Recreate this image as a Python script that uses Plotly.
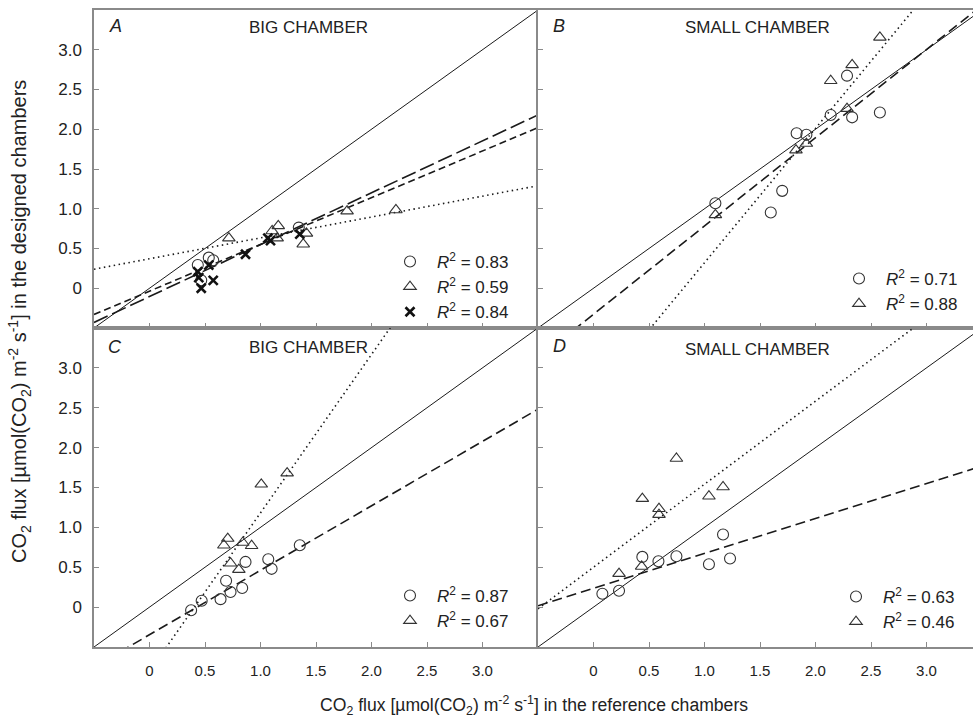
import plotly.graph_objects as go

# ---------------- data ----------------
# Panel A - big chamber
A_circ_x = [0.435, 0.534, 0.574, 0.466, 1.345]
A_circ_y = [0.293, 0.385, 0.353, 0.10, 0.763]
A_tri_x = [0.715, 1.105, 1.16, 1.15, 1.414, 1.385, 1.78, 2.22]
A_tri_y = [0.63, 0.72, 0.785, 0.63, 0.69, 0.554, 0.97, 0.985]
A_x_x = [0.435, 0.444, 0.466, 0.534, 0.574, 0.865, 1.066, 1.09, 1.354]
A_x_y = [0.21, 0.134, 0.0, 0.29, 0.10, 0.428, 0.63, 0.60, 0.68]

# Panel B - small chamber
B_circ_x = [1.098, 1.597, 1.70, 1.83, 1.918, 2.137, 2.284, 2.33, 2.58]
B_circ_y = [1.07, 0.952, 1.225, 1.95, 1.93, 2.18, 2.674, 2.15, 2.21]
B_tri_x = [1.098, 1.824, 1.918, 2.137, 2.284, 2.33, 2.58]
B_tri_y = [0.923, 1.738, 1.82, 2.61, 2.26, 2.81, 3.156]

# Panel C - big chamber
C_circ_x = [0.375, 0.47, 0.64, 0.69, 0.73, 0.835, 0.865, 1.07, 1.10, 1.354]
C_circ_y = [-0.04, 0.08, 0.10, 0.33, 0.19, 0.24, 0.567, 0.60, 0.48, 0.776]
C_tri_x = [0.67, 0.705, 0.73, 0.805, 0.84, 0.92, 1.007, 1.24]
C_tri_y = [0.776, 0.86, 0.55, 0.47, 0.81, 0.77, 1.54, 1.68]

# Panel D - small chamber
D_circ_x = [0.08, 0.23, 0.44, 0.585, 0.747, 1.04, 1.167, 1.23]
D_circ_y = [0.167, 0.205, 0.63, 0.575, 0.637, 0.537, 0.91, 0.61]
D_tri_x = [0.23, 0.434, 0.44, 0.59, 0.59, 0.747, 1.04, 1.167]
D_tri_y = [0.42, 0.51, 1.36, 1.234, 1.16, 1.864, 1.39, 1.506]

# regression lines (slope, intercept)
A_fit_circ = (0.5875, -0.036)
A_fit_tri = (0.2625, 0.371)
A_fit_x = (0.6525, -0.104)
B_fit_circ = (1.11, -0.327)
B_fit_tri = (1.69, -1.369)
C_fit_circ = (0.808, -0.346)
C_fit_tri = (1.986, -0.804)
D_fit_circ = (0.438, 0.236)
D_fit_tri = (1.041, 0.50)

# R^2 values
A_r2 = ["0.83", "0.59", "0.84"]
B_r2 = ["0.71", "0.88"]
C_r2 = ["0.87", "0.67"]
D_r2 = ["0.63", "0.46"]

tick_vals = [0, 0.5, 1.0, 1.5, 2.0, 2.5, 3.0]
tick_text = ["0", "0.5", "1.0", "1.5", "2.0", "2.5", "3.0"]

panel_letters = ["A", "B", "C", "D"]
panel_titles = ["BIG CHAMBER", "SMALL CHAMBER", "BIG CHAMBER", "SMALL CHAMBER"]
x_title = "CO<sub>2</sub> flux [µmol(CO<sub>2</sub>) m<sup>-2</sup> s<sup>-1</sup>] in the reference chambers"
y_title = "CO<sub>2</sub> flux [µmol(CO<sub>2</sub>) m<sup>-2</sup> s<sup>-1</sup>] in the designed chambers"

# ---------------- layout geometry ----------------
W, H = 973, 718
L, R, T, B = 94, 0, 10, 71
PW, PH = W - L - R, H - T - B
split_x = 538
split_y = 328


def pxx(x):
    return (x - L) / PW


def pxy(y):
    return (H - B - y) / PH


FONT = "Liberation Sans, Arial, sans-serif"
AXC = "#8a8a8a"
MK = "#333333"
LN = "#1a1a1a"

fig = go.Figure()

axes = {
    "A": ("x", "y"),
    "B": ("x2", "y2"),
    "C": ("x3", "y3"),
    "D": ("x4", "y4"),
}
legends = {"A": "legend", "B": "legend2", "C": "legend3", "D": "legend4"}

line_x = [-0.5, 3.5]


def add_line(panel, fit, dash, width=1.6):
    xa, ya = axes[panel]
    s, b = fit
    fig.add_trace(go.Scatter(
        x=line_x, y=[b + s * v for v in line_x], mode="lines",
        line=dict(color=LN, width=width, dash=dash),
        xaxis=xa, yaxis=ya, showlegend=False, hoverinfo="skip"))


def add_pts(panel, xs, ys, kind, r2):
    xa, ya = axes[panel]
    if kind == "circ":
        marker = dict(symbol="circle-open", size=11, color=MK, line=dict(width=1.1, color=MK))
    elif kind == "tri":
        marker = dict(symbol="triangle-up-open", size=11, color=MK, line=dict(width=1.1, color=MK))
    else:
        marker = dict(symbol="x-thin", size=9, color="#111111", line=dict(width=2.6, color="#111111"))
    fig.add_trace(go.Scatter(
        x=xs, y=ys, mode="markers", marker=marker,
        name="<i>R</i><sup>2</sup> = " + r2,
        xaxis=xa, yaxis=ya, legend=legends[panel]))


# identity lines
for p in "ABCD":
    add_line(p, (1.0, 0.0), "solid", 1.0)

add_line("A", A_fit_circ, "7px,4px")
add_line("A", A_fit_x, "15px,5px")
add_line("A", A_fit_tri, "1.5px,3.5px")
add_line("B", B_fit_circ, "10px,5px")
add_line("B", B_fit_tri, "1.5px,3.5px")
add_line("C", C_fit_circ, "10px,5px")
add_line("C", C_fit_tri, "1.5px,3.5px")
add_line("D", D_fit_circ, "10px,5px")
add_line("D", D_fit_tri, "1.5px,3.5px")

add_pts("A", A_circ_x, A_circ_y, "circ", A_r2[0])
add_pts("A", A_tri_x, A_tri_y, "tri", A_r2[1])
add_pts("A", A_x_x, A_x_y, "x", A_r2[2])
add_pts("B", B_circ_x, B_circ_y, "circ", B_r2[0])
add_pts("B", B_tri_x, B_tri_y, "tri", B_r2[1])
add_pts("C", C_circ_x, C_circ_y, "circ", C_r2[0])
add_pts("C", C_tri_x, C_tri_y, "tri", C_r2[1])
add_pts("D", D_circ_x, D_circ_y, "circ", D_r2[0])
add_pts("D", D_tri_x, D_tri_y, "tri", D_r2[1])

xd_left = [0, pxx(split_x)]
xd_right = [pxx(split_x), 1]
yd_top = [pxy(split_y), 1]
yd_bot = [0, pxy(split_y)]
x_range_left = [-0.5, -0.5 + (split_x - L) / 111.0]
x_range_right = [-0.5, -0.5 + (W - R - split_x) / 111.0]
y_range = [-0.5, 3.5]

common_ax = dict(
    showgrid=False, zeroline=False, showline=True, linecolor=AXC, linewidth=1.5,
    ticks="inside", ticklen=5, tickwidth=1, tickcolor=AXC,
    tickvals=tick_vals, ticktext=tick_text,
)


def xaxis(domain, rng, anchor, labels):
    d = dict(common_ax)
    d.update(domain=domain, range=rng, anchor=anchor, mirror=True,
             showticklabels=labels, ticklabelstandoff=9,
             tickfont=dict(family=FONT, size=15, color="#222222"))
    return d


def yaxis(domain, anchor, labels):
    d = dict(common_ax)
    d.update(domain=domain, range=y_range, anchor=anchor,
             showticklabels=labels, ticklabelstandoff=7,
             tickfont=dict(family=FONT, size=17, color="#222222"))
    return d


leg_common = dict(xanchor="left", yanchor="top", bgcolor="rgba(0,0,0,0)",
                  font=dict(family=FONT, size=17, color="#222222"),
                  itemwidth=44, tracegroupgap=0, itemsizing="trace",
                  borderwidth=0, traceorder="normal")

fig.update_layout(
    width=W, height=H,
    margin=dict(l=L, r=R, t=T, b=B, pad=0),
    paper_bgcolor="white", plot_bgcolor="white",
    font=dict(family=FONT, color="#222222"),
    showlegend=True,
    xaxis=xaxis(xd_left, x_range_left, "y", False),
    yaxis=yaxis(yd_top, "x", True),
    xaxis2=xaxis(xd_right, x_range_right, "y2", False),
    yaxis2=yaxis(yd_top, "x2", False),
    xaxis3=xaxis(xd_left, x_range_left, "y3", True),
    yaxis3=yaxis(yd_bot, "x3", True),
    xaxis4=xaxis(xd_right, x_range_right, "y4", True),
    yaxis4=yaxis(yd_bot, "x4", False),
    legend=dict(leg_common, x=pxx(383), y=pxy(244)),
    legend2=dict(leg_common, x=pxx(832), y=pxy(261)),
    legend3=dict(leg_common, x=pxx(383), y=pxy(578)),
    legend4=dict(leg_common, x=pxx(829), y=pxy(579)),
)

ann = []
letter_pos = [(115, 26), (559, 26), (115, 347), (559, 346)]
title_pos = [(308, 28), (757, 28), (308, 348), (757, 349)]
for letter, (lx, ly) in zip(panel_letters, letter_pos):
    ann.append(dict(text="<i>" + letter + "</i>", x=pxx(lx), y=pxy(ly), xref="paper", yref="paper",
                    showarrow=False, xanchor="center", yanchor="middle",
                    font=dict(family=FONT, size=18, color="#222222")))
for t, (tx, ty) in zip(panel_titles, title_pos):
    ann.append(dict(text=t, x=pxx(tx), y=pxy(ty), xref="paper", yref="paper",
                    showarrow=False, xanchor="center", yanchor="middle",
                    font=dict(family=FONT, size=17, color="#222222")))
ann.append(dict(text=x_title, x=pxx(534), y=pxy(705), xref="paper", yref="paper",
                showarrow=False, xanchor="center", yanchor="middle",
                font=dict(family=FONT, size=17.6, color="#222222")))
ann.append(dict(text=y_title, x=pxx(19), y=pxy(322), xref="paper", yref="paper",
                showarrow=False, xanchor="center", yanchor="middle", textangle=-90,
                font=dict(family=FONT, size=20, color="#222222")))
fig.update_layout(annotations=ann)

fig.write_html(
    "out.html",
    config={"displayModeBar": False},
    post_script="document.body.style.margin='0';document.body.style.overflow='hidden';",
)
